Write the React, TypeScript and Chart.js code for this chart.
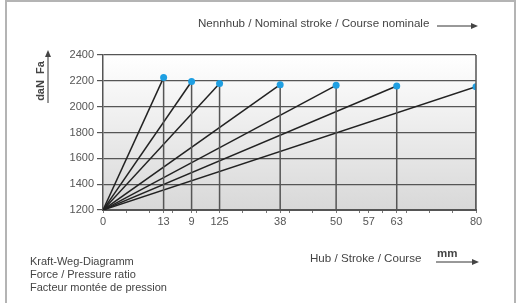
import React, { useEffect, useRef } from "react";
import { Chart, registerables } from "chart.js";

Chart.register(...registerables);

const strokes = [13, 19, 25, 38, 50, 63, 80];
const forces = [2225, 2195, 2180, 2170, 2165, 2160, 2155];
const startForce = 1200;
const xTickValues = [0, 5, 10, 13, 15, 19, 20, 25, 30, 35, 38, 40, 45, 50, 55, 57, 60, 63, 65, 70, 75, 80];
const xTickLabels: Record<number, string> = { 0: "0", 13: "13", 19: "9", 25: "125", 38: "38", 50: "50", 57: "57", 63: "63", 80: "80" };
const topText = "Nennhub / Nominal stroke / Course nominale";
const bottomLeftLines = ["Kraft-Weg-Diagramm", "Force / Pressure ratio", "Facteur montée de pression"];
const xTitle = "Hub / Stroke / Course";
const xUnit = "mm";
const yTitle = "daN  Fa";

const FONT = '"Liberation Sans", Arial, sans-serif';

function arrowH(ctx: CanvasRenderingContext2D, x1: number, x2: number, y: number) {
  ctx.beginPath();
  ctx.moveTo(x1, y);
  ctx.lineTo(x2 - 5, y);
  ctx.stroke();
  ctx.beginPath();
  ctx.moveTo(x2, y);
  ctx.lineTo(x2 - 7, y - 3);
  ctx.lineTo(x2 - 7, y + 3);
  ctx.closePath();
  ctx.fill();
}

function arrowV(ctx: CanvasRenderingContext2D, x: number, y1: number, y2: number) {
  ctx.beginPath();
  ctx.moveTo(x, y1);
  ctx.lineTo(x, y2 + 5);
  ctx.stroke();
  ctx.beginPath();
  ctx.moveTo(x, y2);
  ctx.lineTo(x - 3, y2 + 7);
  ctx.lineTo(x + 3, y2 + 7);
  ctx.closePath();
  ctx.fill();
}

const decorPlugin = {
  id: "decor",
  beforeDraw(chart: any) {
    const { ctx, chartArea: a } = chart;
    ctx.save();
    ctx.fillStyle = "#ffffff";
    ctx.fillRect(0, 0, chart.width, chart.height);
    const g = ctx.createLinearGradient(0, a.top, 0, a.bottom);
    g.addColorStop(0, "#ffffff");
    g.addColorStop(1, "#d8d8d8");
    ctx.fillStyle = g;
    ctx.fillRect(a.left, a.top, a.right - a.left, a.bottom - a.top);
    ctx.restore();
  },
  afterDraw(chart: any) {
    const { ctx, chartArea: a } = chart;
    ctx.save();
    // frame
    ctx.strokeStyle = "#b4b4b4";
    ctx.lineWidth = 2;
    ctx.strokeRect(6, 1, 509, 320);
    // right plot border
    ctx.strokeStyle = "#555";
    ctx.lineWidth = 1.5;
    ctx.beginPath();
    ctx.moveTo(a.right, a.top);
    ctx.lineTo(a.right, a.bottom);
    ctx.stroke();

    ctx.fillStyle = "#444";
    ctx.strokeStyle = "#333";
    ctx.lineWidth = 1;
    ctx.textBaseline = "middle";
    ctx.textAlign = "left";
    ctx.font = `11.6px ${FONT}`;
    ctx.fillText(topText, 198, 24);
    arrowH(ctx, 437, 478, 26);

    ctx.font = `11px ${FONT}`;
    bottomLeftLines.forEach((t, i) => ctx.fillText(t, 30, 262 + i * 13));
    ctx.font = `11.6px ${FONT}`;
    ctx.fillText(xTitle, 310, 259);
    ctx.font = `bold 11.5px ${FONT}`;
    ctx.fillText(xUnit, 437, 254);
    arrowH(ctx, 436, 479, 262);

    // y title
    ctx.save();
    ctx.translate(41, 81);
    ctx.rotate(-Math.PI / 2);
    ctx.textAlign = "center";
    ctx.font = `bold 11px ${FONT}`;
    ctx.fillText(yTitle, 0, 0);
    ctx.restore();
    arrowV(ctx, 48, 103, 50);
    ctx.restore();
  },
};

export default function App() {
  const ref = useRef<HTMLCanvasElement>(null);
  useEffect(() => {
    if (!ref.current) return;
    const datasets = strokes.map((s, i) => ({
      data: [
        { x: 0, y: startForce },
        { x: s, y: forces[i] },
        { x: s, y: startForce },
      ],
      borderColor: "#222",
      borderWidth: 1.5,
      segment: {
        borderColor: (c: any) => (c.p0DataIndex === 0 ? "#222" : "#555"),
      },
      pointRadius: [0, 3.5, 0],
      pointHoverRadius: [0, 3.5, 0],
      pointBackgroundColor: "#1e9fe2",
      pointBorderWidth: 0,
      fill: false,
      tension: 0,
    }));
    const chart = new Chart(ref.current, {
      type: "line",
      data: { datasets },
      plugins: [decorPlugin],
      options: {
        animation: false,
        responsive: false,
        layout: { padding: { left: 0, right: 43, top: 55, bottom: 0 } },
        plugins: { legend: { display: false }, tooltip: { enabled: false } },
        scales: {
          x: {
            type: "linear",
            min: 0,
            max: 80,
            afterBuildTicks: (scale: any) => {
              scale.ticks = xTickValues.map((v) => ({ value: v }));
            },
            afterFit: (scale: any) => {
              scale.height = 93;
            },
            ticks: {
              autoSkip: false,
              maxRotation: 0,
              padding: 2,
              color: "#555",
              font: { family: FONT, size: 11 },
              callback: (v: any) => xTickLabels[v as number] ?? "",
            },
            grid: { drawOnChartArea: false, tickLength: 3, color: "#777" },
            border: { color: "#555", width: 2 },
          },
          y: {
            min: 1200,
            max: 2400,
            afterFit: (scale: any) => {
              scale.width = 103;
            },
            ticks: {
              stepSize: 200,
              padding: 3,
              color: "#555",
              font: { family: FONT, size: 11 },
              callback: (v: any) => String(v),
            },
            grid: { color: "#555", lineWidth: 1.2, tickLength: 6 },
            border: { color: "#555", width: 1.5 },
          },
        },
      },
    });
    return () => chart.destroy();
  }, []);
  return (
    <div style={{ position: "fixed", left: 0, top: 0, width: 519, height: 303 }}>
      <canvas ref={ref} width={519} height={303} />
    </div>
  );
}
